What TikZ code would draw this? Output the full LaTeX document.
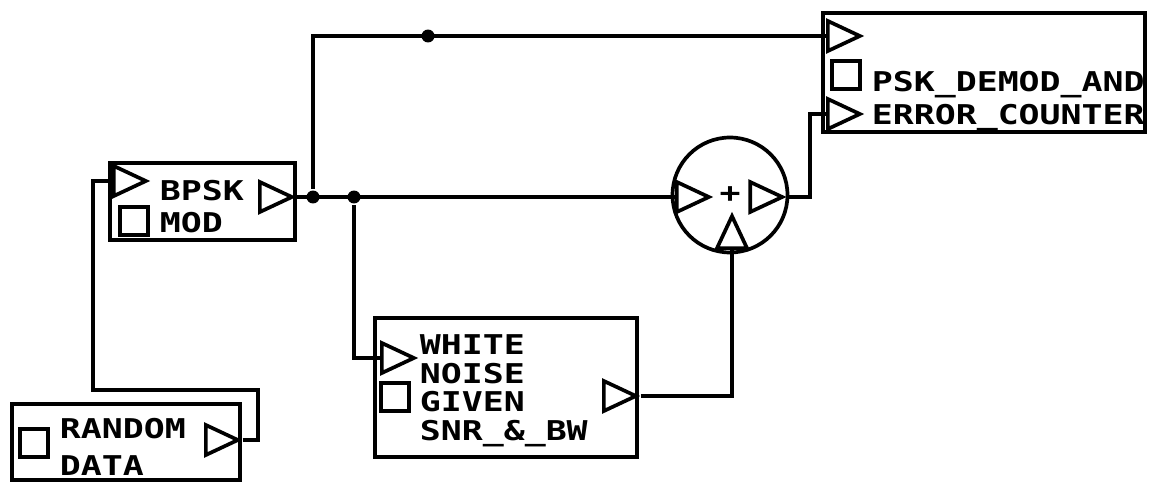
\documentclass[tikz,border=0pt]{standalone}
\usepackage{fontspec}
\usepackage{tikz}
\usetikzlibrary{positioning,shapes.geometric}
\newfontfamily\pixfont{DejaVu Sans Mono}[FakeStretch=1.28]

\begin{document}
\begin{tikzpicture}[
  x=0.02cm, y=-0.02cm, line width=2.1pt,
  blk/.style={rectangle, draw, line width=2.3pt, inner sep=0pt},
  rport/.style={isosceles triangle, isosceles triangle stretches, draw, shape border rotate=0,
    minimum width=0.6cm, minimum height=0.64cm, inner sep=0pt},
  uport/.style={rport, shape border rotate=90},
  pport/.style={rectangle, draw, minimum size=0.56cm, inner sep=0pt},
  sum/.style={circle, draw, minimum size=2.3cm, inner sep=0pt, font=\pixfont\bfseries\fontsize{15.5}{18}\selectfont},
  dot/.style={circle, fill, inner sep=0pt, minimum size=0.26cm},
  lbl/.style={font=\pixfont\bfseries\fontsize{15.5}{#1}\selectfont, align=left, inner sep=0pt, anchor=base west},
  lbl/.default=18.5pt
]
\useasboundingbox (0,0) rectangle (1149,483);
\node[blk, minimum width=3.7cm, minimum height=1.54cm] (bpsk) at (202.5,201.5) {};
\node[rport, anchor=west] (bpskin) at (112,181) {};
\node[pport] (bpskpar) at (134,221) {};
\node[rport, anchor=west] (bpskout) at (258,197) {};
\node[lbl=18.2pt] (bpsktxt) at (158,232) {BPSK\\MOD};
\node[blk, minimum width=4.56cm, minimum height=1.52cm] (rand) at (126,442) {};
\node[pport] (randpar) at (34,443) {};
\node[rport, anchor=west] (randout) at (204,440) {};
\node[lbl=21pt] (randtxt) at (58,475) {RANDOM\\DATA};
\node[blk, minimum width=5.24cm, minimum height=2.78cm] (noise) at (506,387.5) {};
\node[rport, anchor=west] (noisein) at (380,358) {};
\node[pport] (noisepar) at (395,397) {};
\node[rport, anchor=west] (noiseout) at (602,396) {};
\node[lbl=16.2pt] (noisetxt) at (418,440) {WHITE\\NOISE\\GIVEN\\SNR\_\&\_BW};
\node[sum] (add) at (730,195) {+};
\node[rport, anchor=west] (addin) at (675,197) {};
\node[rport, anchor=east] (addout) at (787,197) {};
\node[uport, anchor=south] (addbot) at (732,250) {};
\node[blk, minimum width=6.44cm, minimum height=2.38cm] (psk) at (984,72.5) {};
\node[rport, anchor=west] (pskin) at (826,36) {};
\node[pport] (pskpar) at (846,75) {};
\node[rport, anchor=west] (pskerr) at (826,114) {};
\node[lbl=18.8pt] (psktxt) at (870,125) {PSK\_DEMOD\_AND\\ERROR\_COUNTER};
\node[dot] (j1) at (313,197) {};
\node[dot] (j2) at (354,197) {};
\node[dot] (j3) at (428,36) {};
\coordinate (r1) at (258,390);
\coordinate (r2) at (93,390);
\coordinate (s1) at (810,197);
\draw (randout.east) -| (r1) -- (r2) |- (bpskin.west);
\draw (bpskout.east) -- (addin.west);
\draw (j1) |- (pskin.west);
\draw (j2) |- (noisein.west);
\draw (noiseout.east) -| (addbot.south);
\draw (addout.east) -- (s1) |- (pskerr.west);
\end{tikzpicture}
\end{document}
